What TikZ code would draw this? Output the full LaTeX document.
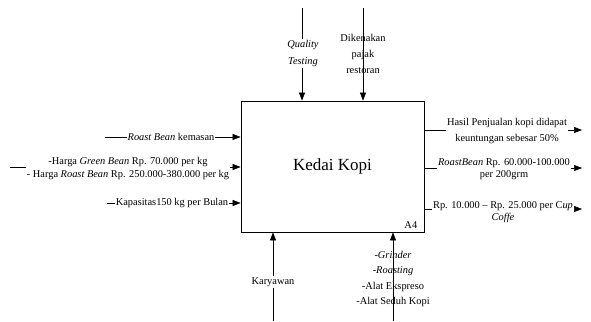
\documentclass[tikz,border=0pt]{standalone}
\usepackage{fontspec}
\setmainfont{Liberation Serif}
\usetikzlibrary{arrows.meta}
\begin{document}
\begin{tikzpicture}[x=1pt,y=-1pt,
  arr/.style={-{Triangle[length=8pt,width=6pt]}, line width=0.6pt},
  lbl/.style={font=\fontsize{10.4}{13}\selectfont, inner sep=1pt, align=center},
  wlbl/.style={lbl, fill=white}]
\useasboundingbox (0,0) rectangle (591,321);
% main box
\node[draw, line width=0.8pt, minimum width=183pt, minimum height=131pt, inner sep=0pt,
      font=\fontsize{17}{20}\selectfont] (box) at (332.5,166.5) {Kedai Kopi};
\node[lbl, anchor=south east] (a4) at ([xshift=-6pt,yshift=3pt]box.south east) {A4};
% free ends
\coordinate (l1) at (105,137);
\coordinate (l2) at (10,167);
\coordinate (l3) at (107,203);
\coordinate (t1) at (302,8);
\coordinate (t2) at (363,8);
\coordinate (b1) at (273,321);
\coordinate (b2) at (393,321);
\coordinate (r1) at (582,130);
\coordinate (r2) at (582,168);
\coordinate (r3) at (582,209);
% inputs
\draw[arr] (l1) -- (l1 -| box.west);
\draw[arr] (l2) -- (l2 -| box.west);
\draw[arr] (l3) -- (l3 -| box.west);
% controls
\draw[arr] (t1) -- (t1 |- box.north);
\draw[arr] (t2) -- (t2 |- box.north);
% mechanisms
\draw[arr] (b1) -- (b1 |- box.south);
\draw[arr] (b2) -- (b2 |- box.south);
% outputs
\draw[arr] (r1 -| box.east) -- (r1);
\draw[arr] (r2 -| box.east) -- (r2);
\draw[arr] (r3 -| box.east) -- (r3);
% labels
\node[wlbl] (tl1) at (171,137) {\textit{Roast Bean} kemasan};
\node[wlbl] (tl2) at (128,168.5) {-Harga \textit{Green Bean} Rp. 70.000 per kg\\- Harga \textit{Roast Bean} Rp. 250.000-380.000 per kg};
\node[wlbl] (tl3) at (172,203) {Kapasitas150 kg per Bulan};
\node[wlbl, font=\fontsize{10.4}{17}\selectfont] (tt1) at (303,53.5) {\textit{Quality}\\\textit{Testing}};
\node[lbl, font=\fontsize{10.4}{16}\selectfont] (tt2) at (363,54) {Dikenakan\\pajak\\restoran};
\node[wlbl] (tb1) at (273,282) {Karyawan};
\node[lbl, font=\fontsize{10.4}{15.5}\selectfont] (tb2) at (393,279) {-\textit{Grinder}\\-\textit{Roasting}\\-Alat Ekspreso\\-Alat Seduh Kopi};
\node[wlbl, font=\fontsize{10.4}{16}\selectfont] (tr1) at (507,131.5) {Hasil Penjualan kopi didapat\\keuntungan sebesar 50\%};
\node[wlbl, font=\fontsize{10.4}{12.5}\selectfont] (tr2) at (504,169) {\textit{RoastBean} Rp. 60.000-100.000\\per 200grm};
\node[wlbl, font=\fontsize{10.4}{12}\selectfont] (tr3) at (503,212.5) {Rp. 10.000 -- Rp. 25.000 per C\textit{up}\\\textit{Coffe}};
\end{tikzpicture}
\end{document}
